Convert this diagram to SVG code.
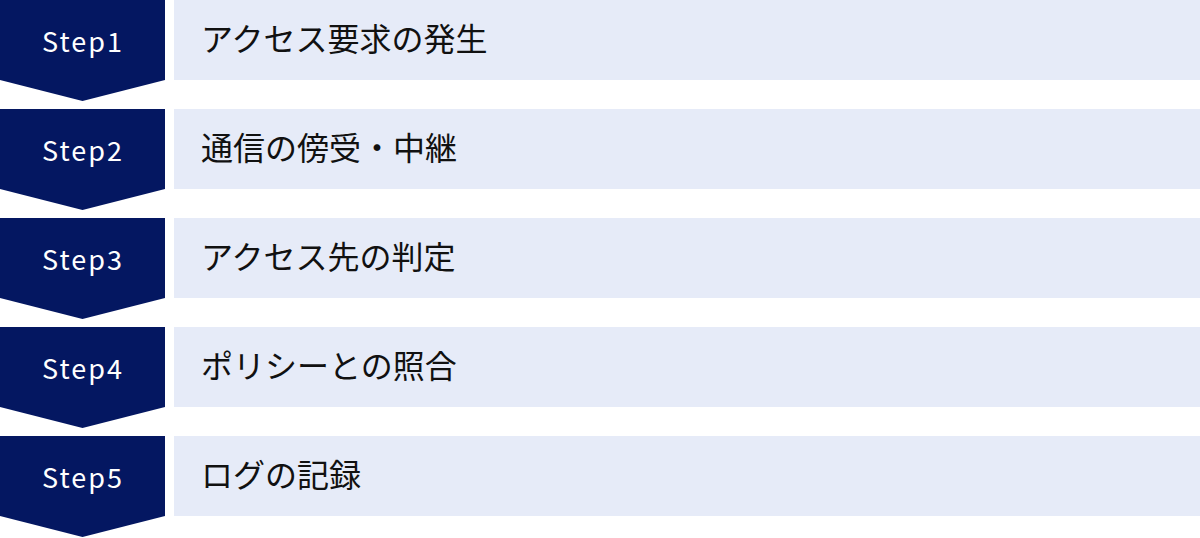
<svg xmlns="http://www.w3.org/2000/svg" width="1200" height="538" viewBox="0 0 1200 538">
<style>
.chev{fill:#041761}
.bar{fill:#E6EBF8}
.step{font-family:"Noto Sans CJK JP","Noto Sans",sans-serif;font-size:27px;fill:#FFFFFF;text-anchor:middle;letter-spacing:2px}
.lbl{font-family:"Noto Sans CJK JP","Noto Sans",sans-serif;font-size:32px;fill:#111111}
</style>
<rect width="1200" height="538" fill="#FFFFFF"/>
<g id="step1">
<polygon class="chev" points="0,0 165,0 165,80 82.5,101 0,80"/>
<rect class="bar" x="174" y="0" width="1026" height="80"/>
<text class="step" x="83" y="52">Step1</text>
<text class="lbl" x="201" y="51">アクセス要求の発生</text>
</g>
<g id="step2">
<polygon class="chev" points="0,109 165,109 165,189 82.5,210 0,189"/>
<rect class="bar" x="174" y="109" width="1026" height="80"/>
<text class="step" x="83" y="161">Step2</text>
<text class="lbl" x="201" y="160">通信の傍受・中継</text>
</g>
<g id="step3">
<polygon class="chev" points="0,218 165,218 165,298 82.5,319 0,298"/>
<rect class="bar" x="174" y="218" width="1026" height="80"/>
<text class="step" x="83" y="270">Step3</text>
<text class="lbl" x="201" y="269">アクセス先の判定</text>
</g>
<g id="step4">
<polygon class="chev" points="0,327 165,327 165,407 82.5,428 0,407"/>
<rect class="bar" x="174" y="327" width="1026" height="80"/>
<text class="step" x="83" y="379">Step4</text>
<text class="lbl" x="201" y="378">ポリシーとの照合</text>
</g>
<g id="step5">
<polygon class="chev" points="0,436 165,436 165,516 82.5,537 0,516"/>
<rect class="bar" x="174" y="436" width="1026" height="80"/>
<text class="step" x="83" y="488">Step5</text>
<text class="lbl" x="201" y="487">ログの記録</text>
</g>
<g id="connectors"></g>
</svg>
